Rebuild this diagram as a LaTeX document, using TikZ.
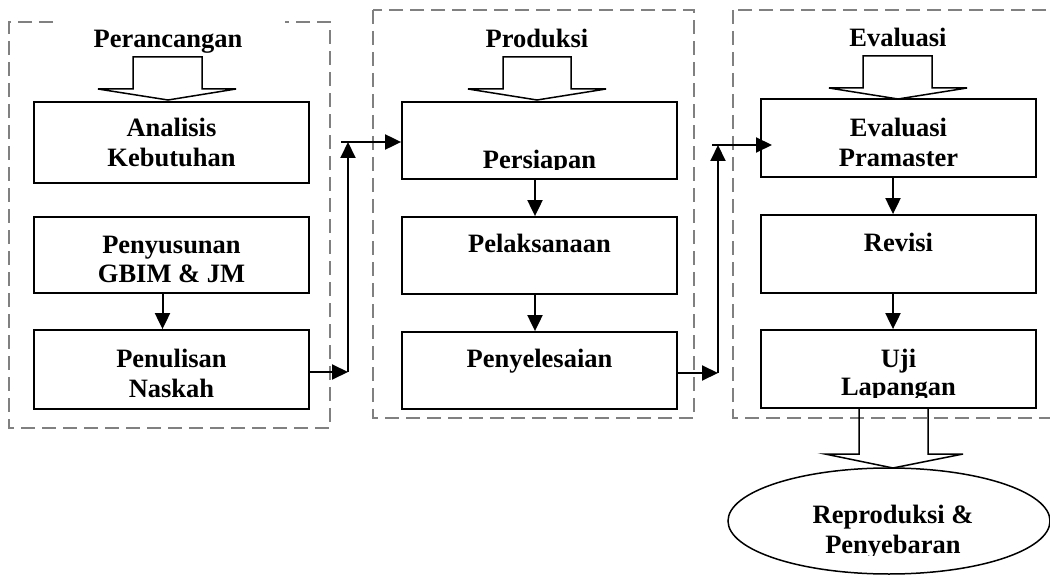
\documentclass[tikz,border=0pt]{standalone}
\usepackage{fontspec}
\setmainfont{Liberation Serif}
\usetikzlibrary{shapes.geometric,arrows.meta}
\tikzset{
  box/.style={draw, line width=1.8pt, rectangle, inner sep=0pt, minimum width=275pt},
  lbl/.style={anchor=base, inner sep=0pt, font=\fontsize{26.5}{30}\selectfont\bfseries},
  conn/.style={line width=2pt, -{Triangle[length=16pt,width=15pt]}},
  group/.style={draw=black!50, line width=1.4pt, dash pattern=on 14pt off 7pt},
  blockarrow/.style={draw, line width=1.5pt, line join=miter, fill=white}
}
\begin{document}
\begin{tikzpicture}[x=1pt,y=-1pt]
\useasboundingbox (0,0) rectangle (1050,575);
\clip (0,0) rectangle (1050,575);
\fill[white] (0,0) rectangle (1050,575);

% group frames
\draw[group] (53,22) -- (9,22) -- (9,428) -- (330,428) -- (330,22) -- (285,22);
\draw[group] (373,10) rectangle (694,418);
\draw[group] (733,10) rectangle (1080,418);

% titles
\node[lbl] (t1) at (168,48) {Perancangan};
\node[lbl] (t2) at (537,48) {Produksi};
\node[lbl] (t3) at (898,47) {Evaluasi};

% block arrows from titles
\draw[blockarrow] (133,57) -- (202,57) -- (202,89) -- (236,89) -- (168,100) -- (98,89) -- (133,89) -- cycle;
\draw[blockarrow] (503,57) -- (571,57) -- (571,89) -- (606,89) -- (537,100) -- (468,89) -- (503,89) -- cycle;
\draw[blockarrow] (863,56) -- (932,56) -- (932,88) -- (967,88) -- (898,99) -- (829,88) -- (863,88) -- cycle;

% boxes
\node[box, minimum height=81pt] (ak) at (171.5,142.5) {};
\node[box, minimum height=76pt] (pg) at (171.5,255) {};
\node[box, minimum height=79pt] (pn) at (171.5,369.5) {};
\node[box, minimum height=77pt] (ps) at (539.5,140.5) {};
\node[box, minimum height=77pt] (pl) at (539.5,255.5) {};
\node[box, minimum height=77pt] (py) at (539.5,370.5) {};
\node[box, minimum height=78pt] (ep) at (898.5,138) {};
\node[box, minimum height=78pt] (rv) at (898.5,254) {};
\node[box, minimum height=78pt] (uj) at (898.5,369) {};

% box texts
\node[lbl] (ak1) at (171.5,137) {Analisis};
\node[lbl] (ak2) at (171.5,167) {Kebutuhan};
\node[lbl] (pg1) at (171.5,253) {Penyusunan};
\node[lbl] (pg2) at (171.5,282) {GBIM \& JM};
\node[lbl] (pn1) at (171.5,367) {Penulisan};
\node[lbl] (pn2) at (171.5,397) {Naskah};
\begin{scope}
  \clip (402,102) rectangle (677,170);
  \node[lbl] (ps1) at (539.5,168) {Persiapan};
\end{scope}
\node[lbl] (pl1) at (539.5,252) {Pelaksanaan};
\node[lbl] (py1) at (539.5,367) {Penyelesaian};
\node[lbl] (ep1) at (898.5,137) {Evaluasi};
\node[lbl] (ep2) at (898.5,167) {Pramaster};
\node[lbl] (rv1) at (898.5,251) {Revisi};
\node[lbl] (uj1) at (898.5,367) {Uji};
\begin{scope}
  \clip (761,330) rectangle (1036,397);
  \node[lbl] (uj2) at (898.5,395) {Lapangan};
\end{scope}

% final ellipse
\node[draw, ellipse, line width=1.5pt, inner sep=0pt, minimum width=322pt, minimum height=106pt] (rp) at (889,521) {};
\node[lbl] (rp1) at (893,523) {Reproduksi \&};
\begin{scope}
  \clip (700,530) rectangle (1050,555);
  \node[lbl] (rp2) at (893,553) {Penyebaran};
\end{scope}
\draw[blockarrow, fill=none] (859,408) -- (859,454) -- (825,454) -- (893,468) -- (963,454) -- (928,454) -- (928,408);

% vertical arrows inside columns
\draw[conn] ([xshift=-9pt]pg.south) -- ([xshift=-9pt]pn.north);
\draw[conn] ([xshift=-4.5pt]ps.south) -- ([xshift=-4.5pt]pl.north);
\draw[conn] ([xshift=-4.5pt]pl.south) -- ([xshift=-4.5pt]py.north);
\draw[conn] ([xshift=-5.5pt]ep.south) -- ([xshift=-5.5pt]rv.north);
\draw[conn] ([xshift=-5.5pt]rv.south) -- ([xshift=-5.5pt]uj.north);

% connectors between groups
\coordinate (c1) at (348,372);
\coordinate (c2) at (348,142);
\coordinate (c3) at (341,142);
\draw[conn] (pn.east |- c1) -- (c1);
\draw[conn] (c1) -- (c2);
\draw[conn] (c3) -- (ps.west |- c3);
\coordinate (c4) at (718,373);
\coordinate (c5) at (718,145);
\coordinate (c6) at (712,145);
\coordinate (c7) at (772,145);
\draw[conn] (py.east |- c4) -- (c4);
\draw[conn] (c4) -- (c5);
\draw[conn] (c6) -- (c7);
\end{tikzpicture}
\end{document}
